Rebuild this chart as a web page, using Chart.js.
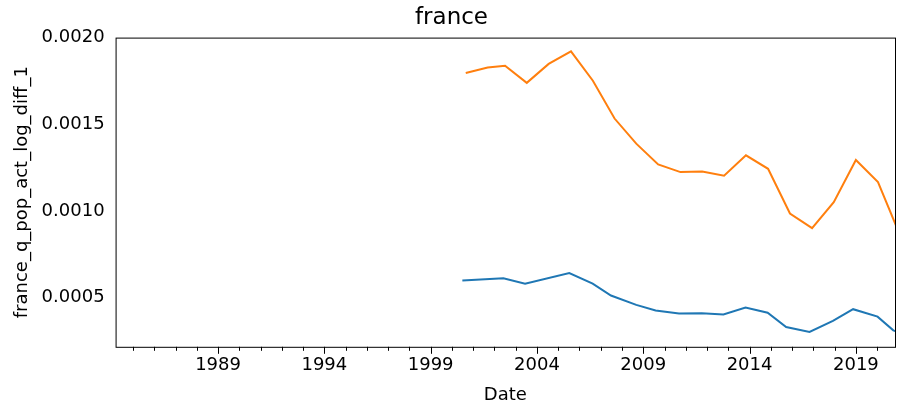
<!DOCTYPE html>
<html>
<head>
<meta charset="utf-8">
<script src="https://cdn.jsdelivr.net/npm/chart.js@4"></script>
<style>
  body { margin: 0; background: #fff; }
  #wrap { width: 914px; height: 410px; }
</style>
</head>
<body>
<div id="wrap"><canvas id="chart"></canvas></div>
<script>
// values (x in fractional years)
const orangeYears = [2000.65, 2001.68, 2002.5, 2003.52, 2004.55, 2005.6, 2006.63, 2007.65, 2008.67, 2009.7,
    2010.75, 2011.77, 2012.8, 2013.83, 2014.87, 2015.9, 2016.94, 2017.96, 2019.0, 2020.04, 2021.05];
const orangeValues = [0.001796, 0.001828, 0.001838, 0.001739, 0.001848, 0.001921, 0.001751, 0.001533, 0.001388, 0.001268,
    0.001224, 0.001228, 0.001203, 0.001321, 0.001243, 0.000985, 0.000901, 0.001050, 0.001294, 0.001166, 0.000867];
const blueYears = [2000.49, 2002.42, 2003.44, 2005.52, 2006.62, 2007.48, 2008.67, 2009.58, 2010.68, 2011.75,
    2012.77, 2013.81, 2014.85, 2015.72, 2016.82, 2017.92, 2018.87, 2020.02, 2020.76, 2021.0];
const blueValues = [0.000599, 0.000612, 0.000580, 0.000641, 0.000580, 0.000512, 0.000458, 0.000425, 0.000408, 0.000410,
    0.000402, 0.000442, 0.000413, 0.000330, 0.000302, 0.000365, 0.000433, 0.000390, 0.000311, 0.000300];
const xTicks = [1989, 1994, 1999, 2004, 2009, 2014, 2019];
const yTicks = [0.0005, 0.0010, 0.0015, 0.0020];

const font = "'DejaVu Sans', sans-serif";

const framePlugin = {
    id: "frame",
    afterDraw(chart) {
        const a = chart.chartArea, ctx = chart.ctx, xs = chart.scales.x;
        ctx.save();
        ctx.strokeStyle = "#000";
        ctx.lineWidth = 1;
        ctx.strokeRect(a.left + 0.5, a.top + 0.5, a.right - a.left, a.bottom - a.top);
        // minor year ticks
        for (let yr = 1985; yr <= 2020; yr++) {
            const px = Math.round(xs.getPixelForValue(yr)) + 0.5;
            ctx.beginPath();
            ctx.moveTo(px, a.bottom);
            ctx.lineTo(px, a.bottom + (xTicks.includes(yr) ? 7 : 4));
            ctx.stroke();
        }
        ctx.restore();
    }
};

new Chart(document.getElementById("chart"), {
    type: "line",
    data: {
        datasets: [{
            data: blueYears.map((x, i) => ({ x: x, y: blueValues[i] })),
            borderColor: "#1f77b4",
            borderWidth: 2,
            pointRadius: 0
        }, {
            data: orangeYears.map((x, i) => ({ x: x, y: orangeValues[i] })),
            borderColor: "#ff7f0e",
            borderWidth: 2,
            pointRadius: 0
        }]
    },
    options: {
        responsive: true,
        maintainAspectRatio: false,
        animation: false,
        layout: { padding: { top: 0, right: 19, left: 8, bottom: 4 } },
        plugins: {
            legend: { display: false },
            tooltip: { enabled: false },
            title: {
                display: true,
                text: "france",
                color: "#000",
                font: { family: font, size: 23, weight: "normal" },
                padding: { top: 4, bottom: 6 }
            }
        },
        scales: {
            x: {
                type: "linear",
                min: 1984.18,
                max: 2020.84,
                grid: { display: false, drawTicks: false },
                border: { display: false },
                afterBuildTicks: s => { s.ticks = xTicks.map(v => ({ value: v })); },
                ticks: {
                    color: "#000",
                    padding: 8,
                    font: { family: font, size: 18 },
                    callback: v => String(v)
                },
                title: {
                    display: true,
                    text: "Date",
                    color: "#000",
                    font: { family: font, size: 18 },
                    padding: { top: 0, bottom: 0 }
                }
            },
            y: {
                min: 0.000216,
                max: 0.0020,
                grid: { display: false, tickLength: 7, tickColor: "#000" },
                border: { display: false },
                afterBuildTicks: s => { s.ticks = yTicks.map(v => ({ value: v })); },
                ticks: {
                    color: "#000",
                    padding: 4,
                    font: { family: font, size: 18 },
                    callback: v => v.toFixed(4)
                },
                title: {
                    display: true,
                    text: "france_q_pop_act_log_diff_1",
                    color: "#000",
                    font: { family: font, size: 18 },
                    padding: { bottom: 4 }
                }
            }
        }
    },
    plugins: [framePlugin]
});
</script>
</body>
</html>
